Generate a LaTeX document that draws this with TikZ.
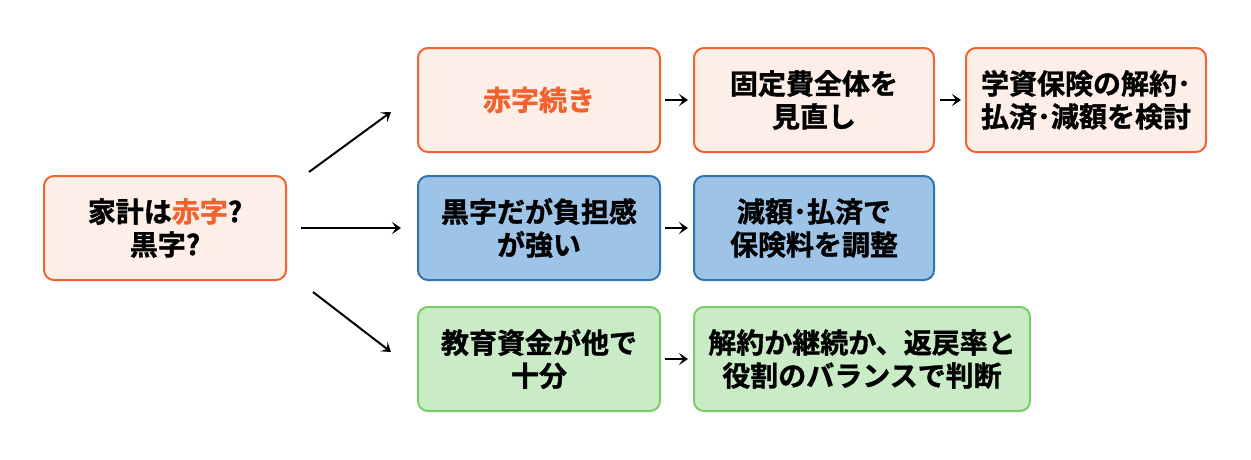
\documentclass[tikz,border=0pt]{standalone}
\usepackage{fontspec}
\setmainfont{Noto Sans CJK JP Bold}[FakeBold=1.2]
\usetikzlibrary{arrows.meta}
\definecolor{akaline}{HTML}{F2622E}
\definecolor{akafill}{HTML}{FDEEE8}
\definecolor{aoline}{HTML}{2E75B6}
\definecolor{aofill}{HTML}{9DC3E6}
\definecolor{midoline}{HTML}{7ACC6B}
\definecolor{midofill}{HTML}{C9EBC5}
\begin{document}
\begin{tikzpicture}[
    x=1pt, y=-1pt,
    box/.style={rectangle, draw, line width=2pt, rounded corners=10pt, minimum width=242pt, minimum height=104pt, align=center, font=\fontsize{28}{33}\selectfont},
    aka/.style={box, draw=akaline, fill=akafill},
    ao/.style={box, draw=aoline, fill=aofill},
    mido/.style={box, draw=midoline, fill=midofill},
    arrow/.style={-{Stealth[length=9pt,width=12pt,inset=4pt]}, line width=2pt}
]
    \useasboundingbox (0,0) rectangle (1251,459);

    \node[aka] (kakei) at (165,228) {家計は\textcolor{akaline}{赤字}?\\黒字?};

    % 赤字
    \node[aka] (akaji) at (539,100) {\textcolor{akaline}{赤字続き}};
    \node[aka, minimum width=240pt] (kotei) at (814,100) {固定費全体を\\見直し};
    \node[aka, minimum width=240pt] (gakushi) at (1086,100) {学資保険の解約･\\払済･減額を検討};

    % 黒字
    \node[ao] (kuroji) at (539,228) {黒字だが負担感\\が強い};
    \node[ao, minimum width=240pt] (gengaku) at (814,228) {減額･払済で\\保険料を調整};

    % 教育資金
    \node[mido] (kyoiku) at (539,359) {教育資金が他で\\十分};
    \node[mido, minimum width=336pt] (kaiyaku) at (862,359) {解約か継続か、返戻率と\\役割のバランスで判断};

    % 分岐の矢印
    \coordinate (ue0) at ([shift={(22,-56)}]kakei.east);
    \coordinate (ue1) at ([shift={(-26,12)}]akaji.west);
    \coordinate (shita0) at ([shift={(26,64)}]kakei.east);
    \coordinate (shita1) at ([shift={(-26,-7)}]kyoiku.west);
    \draw[arrow] (ue0) -- (ue1);
    \draw[arrow, shorten <=14pt, shorten >=16pt] (kakei.east) -- (kuroji.west);
    \draw[arrow] (shita0) -- (shita1);

    \draw[arrow, shorten <=4pt, shorten >=5pt] (akaji) -- (kotei);
    \draw[arrow, shorten <=5pt, shorten >=4pt] (kotei) -- (gakushi);
    \draw[arrow, shorten <=4pt, shorten >=5pt] (kuroji) -- (gengaku);
    \draw[arrow, shorten <=4pt, shorten >=5pt] (kyoiku) -- (kaiyaku);
\end{tikzpicture}
\end{document}
